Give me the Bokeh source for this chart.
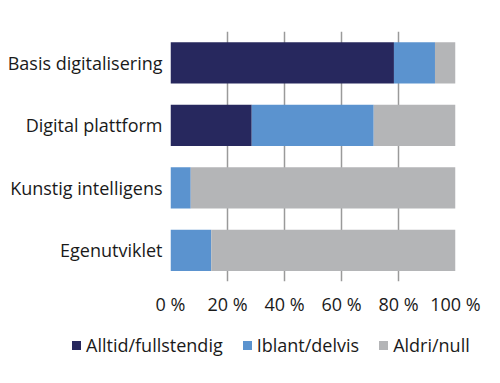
from bokeh.plotting import figure
from bokeh.layouts import column
from bokeh.models import ColumnDataSource, FactorRange, FixedTicker, CustomJSTickFormatter, Div
from bokeh.embed import file_html
from bokeh.resources import INLINE

categories = ["Basis digitalisering", "Digital plattform", "Kunstig intelligens", "Egenutviklet"]
alltid = [78.4, 28.5, 0.0, 0.0]
iblant = [14.4, 42.8, 7.1, 14.3]
aldri = [7.2, 28.7, 92.9, 85.7]
series = ["Alltid/fullstendig", "Iblant/delvis", "Aldri/null"]
colors = ["#27285e", "#5b93cf", "#b4b5b7"]
ticks = [0, 20, 40, 60, 80, 100]

src = ColumnDataSource(dict(cat=categories, a=alltid, b=iblant, c=aldri))

p = figure(width=495, height=325, y_range=FactorRange(*categories[::-1]),
           x_range=(0, 100), output_backend="svg", toolbar_location=None,
           min_border_left=170, min_border_right=40, min_border_top=31, min_border_bottom=44)
p.y_range.range_padding = 0
p.outline_line_color = None
p.hbar_stack(["a", "b", "c"], y="cat", height=0.66, color=colors, line_color=None, source=src)

p.xaxis.ticker = FixedTicker(ticks=ticks)
p.xaxis.formatter = CustomJSTickFormatter(code="return tick + ' %';")
p.xaxis.axis_line_color = None
p.xaxis.major_tick_line_color = None
p.xaxis.minor_tick_line_color = None
p.xaxis.major_label_text_font = "Open Sans"
p.xaxis.major_label_text_font_size = "18px"
p.xaxis.major_label_text_color = "#1a1a1a"
p.xaxis.major_label_standoff = 4

p.yaxis.axis_line_color = None
p.yaxis.major_tick_line_color = None
p.yaxis.major_label_text_font = "Open Sans"
p.yaxis.major_label_text_font_size = "18px"
p.yaxis.major_label_text_color = "#1a1a1a"
p.yaxis.major_label_standoff = 2

p.ygrid.grid_line_color = None
p.xgrid.grid_line_color = "#9a9a9a"
p.xgrid.grid_line_width = 1.5
p.xgrid.level = "underlay"

items = "".join(
    f'<span style="display:inline-flex;align-items:center;margin-right:20px">'
    f'<span style="display:inline-block;width:9px;height:9px;background:{c};margin-right:5px"></span>{s}</span>'
    for s, c in zip(series, colors))
legend = Div(text=items, width=495, height=45,
             styles={"font-family": "Open Sans", "font-size": "18px", "color": "#1a1a1a",
                     "padding-left": "67px", "padding-top": "1px", "white-space": "nowrap"})

open("out.html", "w").write(file_html(column(p, legend), INLINE))
